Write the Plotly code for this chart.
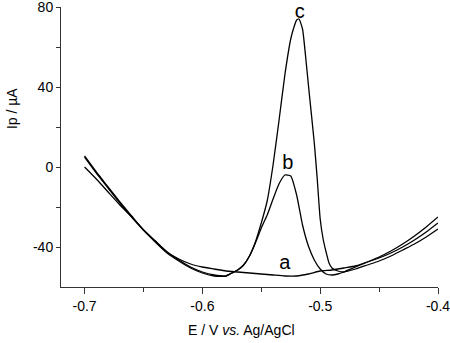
import plotly.graph_objects as go

# Curve a (blank)
a_E = [-0.70, -0.69, -0.68, -0.67, -0.66, -0.65, -0.64, -0.63, -0.62, -0.61, -0.60, -0.59, -0.58, -0.57,
       -0.56, -0.55, -0.54, -0.53, -0.52, -0.51, -0.50, -0.49, -0.48, -0.47, -0.46, -0.45, -0.44, -0.43,
       -0.42, -0.41, -0.40]
a_I = [0, -6, -12.5, -19, -25, -31.5, -37, -42.5, -46, -48.5, -50, -51, -52, -52.5,
       -53, -53.5, -54, -54.5, -54.5, -53.5, -52, -51.5, -50.5, -49.5, -47.5, -45.5, -43, -40,
       -36.5, -32.5, -28]

# Curve b
b_E = [-0.70, -0.69, -0.68, -0.67, -0.66, -0.65, -0.64, -0.63, -0.62, -0.61, -0.60, -0.59, -0.58, -0.575,
       -0.57, -0.565, -0.56, -0.555, -0.55, -0.545, -0.54, -0.535, -0.53, -0.525, -0.52, -0.515,
       -0.51, -0.505, -0.50, -0.495, -0.49, -0.485, -0.48, -0.47, -0.46, -0.45, -0.44, -0.43, -0.42, -0.41,
       -0.40]
b_I = [5, -3, -10.5, -18, -25, -31.5, -37.5, -43, -47, -50.5, -53, -54.5, -54.5, -53,
       -51.5, -49, -44.5, -38, -30.5, -24, -16, -8.5, -4, -4.5, -14, -29,
       -39.5, -46.5, -51, -53.5, -54, -53.5, -52.5, -50, -47.5, -45, -42, -38.5, -34.5, -30,
       -25]

# Curve c
c_E = [-0.70, -0.69, -0.68, -0.67, -0.66, -0.65, -0.64, -0.63, -0.62, -0.61, -0.60, -0.59, -0.58, -0.575,
       -0.57, -0.565, -0.56, -0.555, -0.55, -0.545, -0.54, -0.535, -0.53, -0.525, -0.5225, -0.52, -0.518,
       -0.515, -0.5125, -0.51, -0.505, -0.5025, -0.50, -0.4975, -0.495, -0.4925, -0.49, -0.485, -0.48,
       -0.47, -0.46, -0.45, -0.44, -0.43, -0.42, -0.41, -0.40]
c_I = [5.5, -2.5, -10, -17.5, -24.5, -31.5, -37, -42.5, -46.5, -50, -52.5, -54, -54.5, -53,
       -51.5, -49, -44.5, -37.5, -28, -17, 1, 23, 46, 64, 69.5, 73.5, 74,
       69, 56, 41, 12, -6, -26, -36, -42.5, -48, -50.5, -52, -52.5,
       -51, -49, -47, -44.5, -41.5, -38.5, -35, -31]

labels = ["a", "b", "c"]
label_E = [-0.530, -0.5275, -0.5173]
label_I = [-48.5, 1.5, 77]

x_tickvals = [-0.7, -0.6, -0.5, -0.4]
x_ticktext = ["-0.7", "-0.6", "-0.5", "-0.4"]
y_tickvals = [80, 40, 0, -40]
y_ticktext = ["80", "40", "0", "-40"]

x_title = "E / V <i>vs.</i> Ag/AgCl"
y_title = "Ip / µA"

FONT = "Liberation Sans, Arial, sans-serif"

fig = go.Figure()
for E, I in [(a_E, a_I), (b_E, b_I), (c_E, c_I)]:
    fig.add_trace(go.Scatter(x=E, y=I, mode="lines",
                             line=dict(color="black", width=1.3, shape="spline", smoothing=0.5),
                             showlegend=False, hoverinfo="skip"))

fig.add_trace(go.Scatter(x=label_E, y=label_I, mode="text", text=labels, cliponaxis=False,
                         textfont=dict(family=FONT, size=20, color="black"),
                         textposition="middle center", showlegend=False, hoverinfo="skip"))

axis_common = dict(showgrid=False, zeroline=False, showline=True, linecolor="#333333", linewidth=1,
                   ticks="outside", tickcolor="#333333", tickwidth=1, automargin=False,
                   ticklabeloverflow="allow",
                   tickfont=dict(family=FONT, size=14, color="black"), mirror=False)

fig.update_layout(
    width=450, height=343,
    margin=dict(l=61, r=12, t=7, b=56),
    paper_bgcolor="white", plot_bgcolor="white",
    xaxis=dict(range=[-0.72, -0.4], tickvals=x_tickvals, ticktext=x_ticktext, ticklen=6,
               minor=dict(tickvals=[-0.65, -0.55, -0.45], ticks="outside", ticklen=4, tickcolor="#333333"),
               **axis_common),
    yaxis=dict(range=[-60, 80], tickvals=y_tickvals, ticktext=y_ticktext, ticklen=4,
               minor=dict(tickvals=[60, 20, -20], ticks="outside", ticklen=4, tickcolor="#333333"),
               **axis_common),
    annotations=[
        dict(text=x_title, xref="paper", yref="paper", x=0.4775, y=-0.153,
             xanchor="center", yanchor="middle", showarrow=False,
             font=dict(family=FONT, size=14, color="black")),
        dict(text=y_title, xref="paper", yref="paper", x=-0.130, y=0.639, textangle=-90,
             xanchor="center", yanchor="middle", showarrow=False,
             font=dict(family=FONT, size=14, color="black")),
    ],
)

fig.write_html("out.html", config={"displayModeBar": False},
               post_script="document.body.style.margin='0';document.body.style.overflow='hidden';")
